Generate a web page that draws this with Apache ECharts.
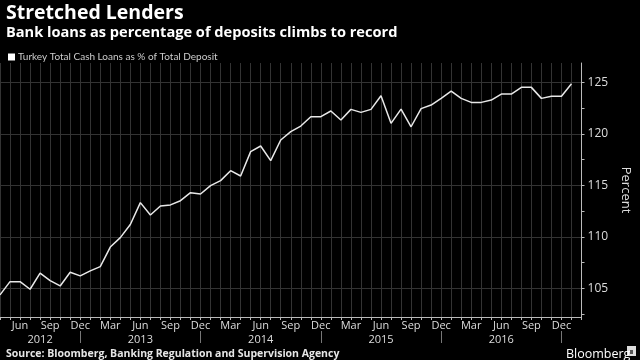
<!DOCTYPE html>
<html><head><meta charset="utf-8">
<script src="https://cdn.jsdelivr.net/npm/echarts@6/dist/echarts.min.js"></script>
<style>html,body{margin:0;padding:0;background:#000}#c{width:640px;height:360px}</style>
</head><body><div id="c"></div><script>
const categories = [
 '2012-04','2012-05','2012-06','2012-07','2012-08','2012-09','2012-10','2012-11','2012-12',
 '2013-01','2013-02','2013-03','2013-04','2013-05','2013-06','2013-07','2013-08','2013-09','2013-10','2013-11','2013-12',
 '2014-01','2014-02','2014-03','2014-04','2014-05','2014-06','2014-07','2014-08','2014-09','2014-10','2014-11','2014-12',
 '2015-01','2015-02','2015-03','2015-04','2015-05','2015-06','2015-07','2015-08','2015-09','2015-10','2015-11','2015-12',
 '2016-01','2016-02','2016-03','2016-04','2016-05','2016-06','2016-07','2016-08','2016-09','2016-10','2016-11','2016-12',
 '2017-01','2017-02'
];
const loanRatio = [
 104.35,105.64,105.64,104.90,106.46,105.74,105.22,106.55,106.20,106.68,
 107.10,109.00,109.92,111.20,113.32,112.12,113.00,113.10,113.51,114.29,
 114.16,114.97,115.46,116.43,115.91,118.28,118.83,117.40,119.41,120.22,
 120.77,121.68,121.68,122.23,121.36,122.39,122.10,122.39,123.72,121.03,
 122.42,120.70,122.46,122.81,123.46,124.17,123.46,123.07,123.07,123.30,
 123.88,123.88,124.53,124.53,123.46,123.66,123.66,124.88
];
const monthTickNames = {'03':'Mar','06':'Jun','09':'Sep','12':'Dec'};
const yearLabels = {'2012-08':'2012','2013-06':'2013','2014-06':'2014','2015-06':'2015','2016-06':'2016'};
const yearSeparators = ['2012-12','2013-12','2014-12','2015-12','2016-12'];
const yLabelValues = [105,110,115,120,125];
const yTickValues = [102.5,105,107.5,110,112.5,115,117.5,120,122.5,125];
const yMin = 102.2, yMax = 126.9;
const seriesName = 'Turkey Total Cash Loans as % of Total Deposit';

const chart = echarts.init(document.getElementById('c'), null, {renderer:'canvas'});
const font = 'Open Sans, Roboto, sans-serif';
chart.setOption({
  backgroundColor:'#000',
  animation:false,
  title:[
    {text:'Stretched Lenders', left:1, top:-2, textStyle:{color:'#fff', fontSize:19.5, fontWeight:'bold', fontFamily:font}},
    {text:'Bank loans as percentage of deposits climbs to record', left:1, top:20, textStyle:{color:'#fff', fontSize:14.6, fontWeight:'bold', fontFamily:font}},
    {text:'Source: Bloomberg, Banking Regulation and Supervision Agency', left:1, top:344, textStyle:{color:'#e6e6e6', fontSize:10.5, fontWeight:'bold', fontFamily:font}},
    {text:'Bloomberg', left:561, top:343, textStyle:{color:'#fff', fontSize:12.5, fontWeight:'normal', fontFamily:font}}
  ],
  graphic:[
    {type:'rect', left:627, top:346, shape:{width:9,height:10}, style:{fill:'#ddd'}},
    {type:'rect', left:630, top:350, shape:{width:3,height:4}, style:{fill:'#555'}}
  ],
  legend:{
    left:3, top:47, icon:'rect', itemWidth:7, itemHeight:7, itemGap:4,
    textStyle:{color:'#ccc', fontSize:10, fontFamily:'Lato, Roboto, sans-serif', padding:[0,0,0,-2]},
    data:[{name:seriesName, itemStyle:{color:'#fff'}}]
  },
  grid:{left:0, right:43, top:63, bottom:43, containLabel:false},
  xAxis:[
    {type:'category', data:categories, boundaryGap:false,
     axisLine:{lineStyle:{color:'#bbb', width:1}},
     axisTick:{show:true, interval:0, length:3, lineStyle:{color:'#bbb'}},
     axisLabel:{interval:(i,v)=>!!monthTickNames[v.slice(5)], formatter:v=>monthTickNames[v.slice(5)]||'', color:'#ddd', fontSize:11, margin:3, fontFamily:font},
     splitLine:{show:true, interval:0, lineStyle:{color:'#333', width:1}}
    },
    {type:'category', data:categories, boundaryGap:false, position:'bottom', offset:14,
     axisLine:{show:false},
     axisTick:{show:true, interval:(i,v)=>yearSeparators.includes(v), length:12, lineStyle:{color:'#777'}},
     axisLabel:{interval:(i,v)=>!!yearLabels[v], formatter:v=>yearLabels[v]||'', color:'#ddd', fontSize:11, margin:3, fontFamily:font},
     splitLine:{show:false}
    }
  ],
  yAxis:[
    {type:'value', position:'right', min:yMin, max:yMax,
     name:'Percent', nameLocation:'middle', nameRotate:-90, nameGap:34,
     nameTextStyle:{color:'#ddd', fontSize:13, fontFamily:font},
     axisLine:{show:true, lineStyle:{color:'#bbb'}},
     axisTick:{show:true, length:3, inside:false, customValues:yTickValues, lineStyle:{color:'#bbb'}},
     axisLabel:{customValues:yLabelValues, color:'#ddd', fontSize:12, margin:6, fontFamily:font},
     splitLine:{show:false}
    },
    {type:'value', position:'right', min:yMin, max:yMax,
     axisLine:{show:false},
     axisTick:{show:false, customValues:yLabelValues},
     axisLabel:{show:false},
     splitLine:{show:true, lineStyle:{color:'#333', width:1}}
    }
  ],
  series:[{
    name:seriesName, type:'line', data:loanRatio, xAxisIndex:0, yAxisIndex:0,
    symbol:'none', color:'#e8e8e8', lineStyle:{color:'#e8e8e8', width:1.5}, z:5
  }]
});
</script></body></html>
